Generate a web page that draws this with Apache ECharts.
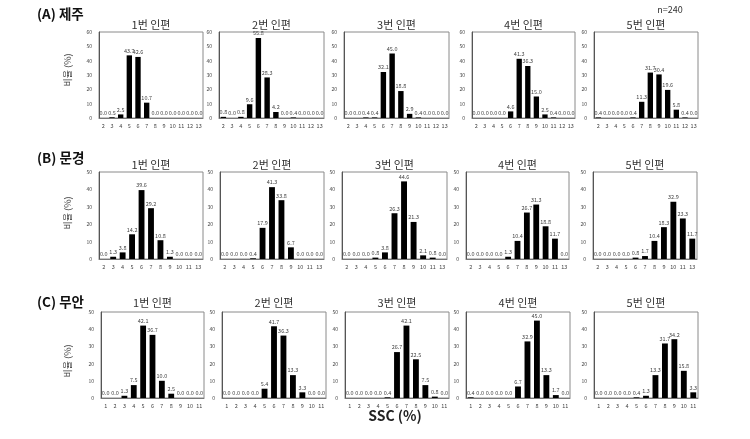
<!DOCTYPE html>
<html><head><meta charset="utf-8">
<script src="https://cdn.jsdelivr.net/npm/echarts@6/dist/echarts.min.js"></script>
<style>html,body{margin:0;padding:0;background:#fff}#c{width:750px;height:439px}</style>
</head><body><div id="c"></div>
<script>
// categories
const catsA = ['2','3','4','5','6','7','8','9','10','11','12','13'];
const catsB = ['2','3','4','5','6','7','8','9','10','11','13'];
const catsC = ['1','2','3','4','5','6','7','8','9','10','11'];
const panelTitles = ['1번 인편','2번 인편','3번 인편','4번 인편','5번 인편'];
const rowTitles = ['(A) 제주','(B) 문경','(C) 무안'];
const yMaxA = 60, yMaxB = 50, yMaxC = 50;
// Row A (제주)
const a1 = [0.0,0.5,2.5,43.7,42.6,10.7,0.0,0.0,0.0,0.0,0.0,0.0];
const a2 = [0.8,0.0,0.8,9.6,55.8,28.3,4.2,0.0,0.4,0.0,0.0,0.0];
const a3 = [0.0,0.0,0.4,0.4,32.1,45.0,18.8,2.9,0.4,0.0,0.0,0.0];
const a4 = [0.0,0.0,0.0,0.0,4.6,41.3,36.3,15.0,2.5,0.4,0.0,0.0];
const a5 = [0.4,0.0,0.0,0.0,0.4,11.3,31.7,30.4,19.6,5.8,0.4,0.0];
// Row B (문경)
const b1 = [0.0,1.3,3.8,14.2,39.6,29.2,10.8,1.3,0.0,0.0,0.0];
const b2 = [0.0,0.0,0.0,0.4,17.9,41.3,33.8,6.7,0.0,0.0,0.0];
const b3 = [0.0,0.0,0.0,0.8,3.8,26.3,44.6,21.3,2.1,0.8,0.0];
const b4 = [0.0,0.0,0.0,0.0,1.3,10.4,26.7,31.3,18.8,11.7,0.0];
const b5 = [0.0,0.0,0.0,0.0,0.8,1.7,10.4,18.3,32.9,23.3,11.7];
// Row C (무안)
const c1 = [0.0,0.0,1.3,7.5,42.1,36.7,10.0,2.5,0.0,0.0,0.0];
const c2 = [0.0,0.0,0.0,0.0,5.4,41.7,36.3,13.3,3.3,0.0,0.0];
const c3 = [0.0,0.0,0.0,0.0,0.4,26.7,42.1,22.5,7.5,0.8,0.0];
const c4 = [0.4,0.0,0.0,0.0,0.0,6.7,32.9,45.0,13.3,1.7,0.0];
const c5 = [0.0,0.0,0.0,0.0,0.4,1.3,13.3,31.7,34.2,15.8,3.3];

const rows = [
  {cats: catsA, ymax: yMaxA, data: [a1,a2,a3,a4,a5], top: 32, h: 86,
   lefts: [99,219,344,472,594], widths: [104,105,105,103,104], titleY: 25, labelY: 14, ylab: 70},
  {cats: catsB, ymax: yMaxB, data: [b1,b2,b3,b4,b5], top: 172, h: 87,
   lefts: [99,220,342,466,593], widths: [104,104,105,103,104], titleY: 165, labelY: 158, ylab: 213},
  {cats: catsC, ymax: yMaxC, data: [c1,c2,c3,c4,c5], top: 312, h: 86,
   lefts: [101,222,345,466,594], widths: [103,104,104,104,104], titleY: 303, labelY: 302, ylab: 361}
];
const FONT = '"Noto Sans CJK KR", "Noto Sans", sans-serif';
const grids = [], xAxes = [], yAxes = [], series = [], graphics = [];
let idx = 0;
rows.forEach((r, ri) => {
  graphics.push({type:'text', x: 37, y: r.labelY,
    style:{text: rowTitles[ri], font: 'bold 13.5px ' + FONT, fill:'#111', verticalAlign:'middle'}});
  graphics.push({type:'text', x: 68, y: r.ylab, rotation: Math.PI/2, originX: 0, originY: 0,
    style:{text:'비율 (%)', font:'9px ' + FONT, fill:'#444', align:'center', verticalAlign:'middle'}});
  for (let p = 0; p < 5; p++) {
    grids.push({left: r.lefts[p], top: r.top, width: r.widths[p], height: r.h,
      show: true, borderColor: '#8a8a8a', borderWidth: 1, backgroundColor: 'transparent'});
    xAxes.push({type:'category', gridIndex: idx, data: r.cats,
      axisTick:{show:false}, axisLine:{show:true, lineStyle:{color:'#777', width:1}},
      axisLabel:{interval:0, fontSize:5.5, color:'#444', margin:5, fontFamily: FONT}});
    yAxes.push({type:'value', gridIndex: idx, min:0, max:r.ymax, interval:10,
      splitLine:{show:false}, axisLine:{show:true, lineStyle:{color:'#555'}},
      axisTick:{show:false},
      axisLabel:{fontSize:5, color:'#444', margin:7, fontFamily: FONT}});
    series.push({type:'bar', xAxisIndex: idx, yAxisIndex: idx, data: r.data[p],
      barWidth: '62%', itemStyle:{color:'#000'},
      label:{show:true, position:'top', distance:2, fontSize:5.5, color:'#444', fontFamily: FONT,
        formatter: (d) => d.value.toFixed(1)}});
    graphics.push({type:'text', x: r.lefts[p] + r.widths[p]/2, y: r.titleY,
      style:{text: panelTitles[p], font: '11px ' + FONT, fill:'#333', align:'center', verticalAlign:'middle'}});
    idx++;
  }
});
graphics.push({type:'text', x: 670, y: 10, style:{text:'n=240', font:'9px ' + FONT, fill:'#333', align:'center', verticalAlign:'middle'}});
graphics.push({type:'text', x: 395, y: 416, style:{text:'SSC (%)', font:'bold 14px ' + FONT, fill:'#222', align:'center', verticalAlign:'middle'}});

const chart = echarts.init(document.getElementById('c'));
chart.setOption({animation:false, backgroundColor:'#fff', grid: grids, xAxis: xAxes, yAxis: yAxes, series: series, graphic: graphics});
</script></body></html>
